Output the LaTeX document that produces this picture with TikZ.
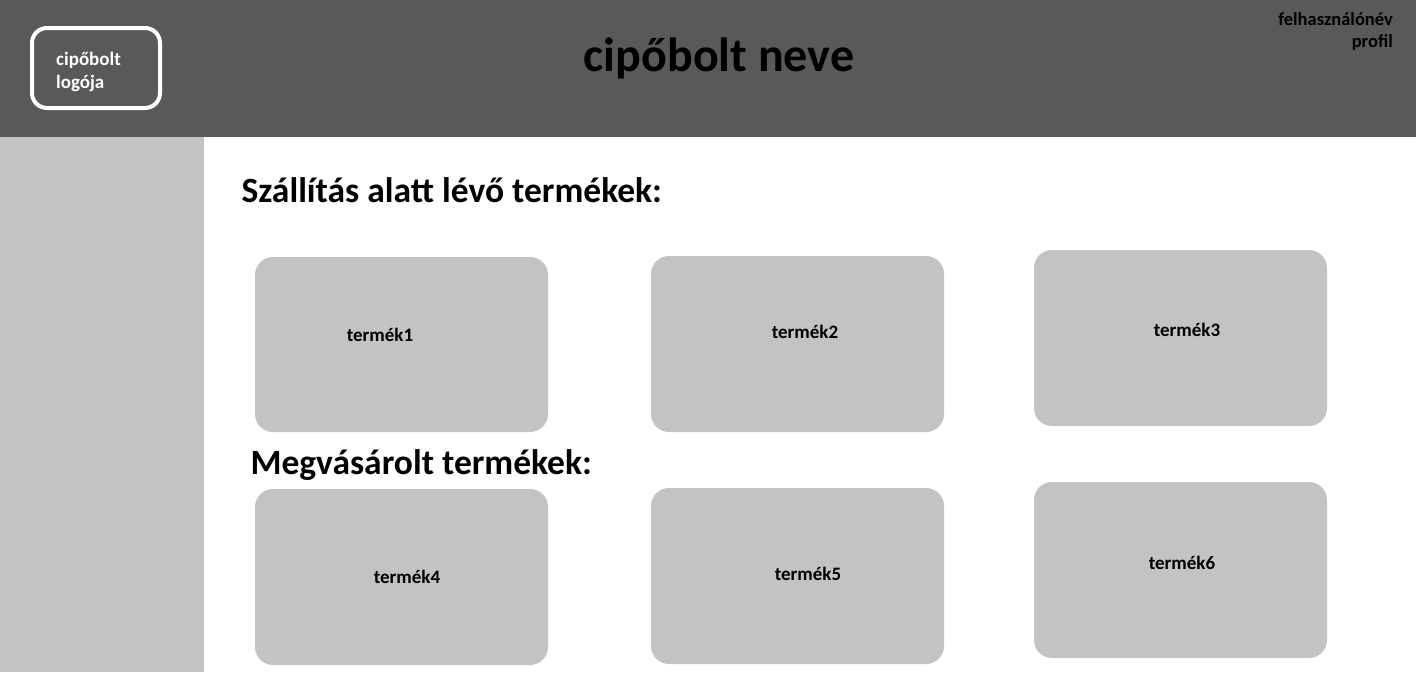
\documentclass[tikz,border=0pt]{standalone}
\usepackage{fontspec}
\setmainfont{Carlito}
\definecolor{hdr}{HTML}{595959}
\definecolor{side}{HTML}{C3C3C3}
\begin{document}
\begin{tikzpicture}[x=1pt,y=-1pt,
  card/.style={fill=side,rounded corners=18pt},
  cardtext/.style={font=\bfseries\fontsize{19}{22}\selectfont,text=black},
  heading/.style={font=\bfseries\fontsize{35.5}{40}\selectfont,text=black,anchor=west}]
\useasboundingbox (0,0) rectangle (1416,672);
\fill[white] (0,0) rectangle (1416,672);
\fill[hdr] (0,0) rectangle (1416,137);
\fill[side] (0,137) rectangle (204,672);
\draw[white,line width=4pt,rounded corners=15pt] (32,28) rectangle (160,108);
\node[anchor=north west,align=left,text=white,font=\bfseries\fontsize{19}{23}\selectfont,inner sep=0pt] (logo) at (56,52) {cipőbolt\\logója};
\node[font=\bfseries\fontsize{48}{52}\selectfont] (title) at (719,58) {cipőbolt neve};
\node[anchor=north east,align=right,font=\bfseries\fontsize{18.5}{22}\selectfont,inner sep=0pt] (user) at (1393,12) {felhasználónév\\profil};
\node[heading] (h1) at (238,190) {Szállítás alatt lévő termékek:};
\node[heading] (h2) at (247,465) {Megvásárolt termékek:};
\fill[card] (255,257) rectangle (548,432);
\fill[card] (651,256) rectangle (944,432);
\fill[card] (1034,250) rectangle (1327,426);
\fill[card] (255,489) rectangle (548,665);
\fill[card] (651,488) rectangle (944,664);
\fill[card] (1034,482) rectangle (1327,658);
\node[cardtext] (t1) at (380,335) {termék1};
\node[cardtext] (t2) at (805,332) {termék2};
\node[cardtext] (t3) at (1187,330) {termék3};
\node[cardtext] (t4) at (407,577) {termék4};
\node[cardtext] (t5) at (808,574) {termék5};
\node[cardtext] (t6) at (1182,563) {termék6};
\end{tikzpicture}
\end{document}
